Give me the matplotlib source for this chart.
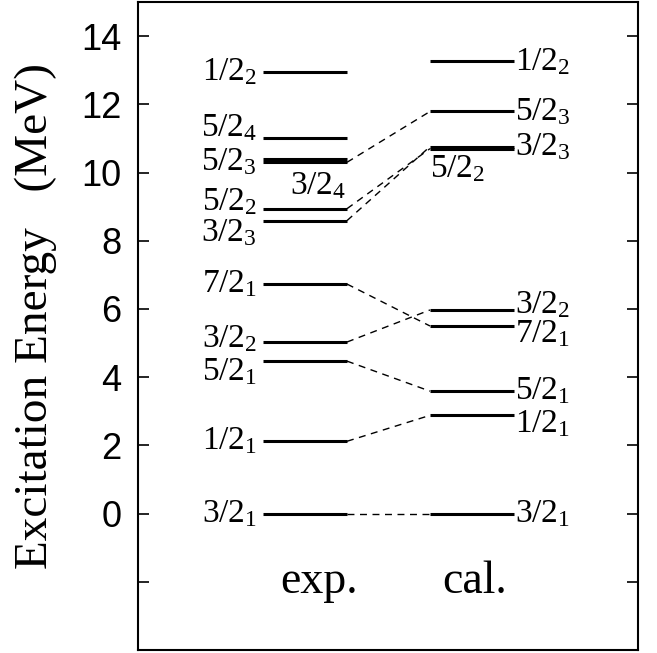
import matplotlib
matplotlib.use("Agg")
import matplotlib.pyplot as plt

# level energies in MeV
exp_labels = ["3/2_1", "1/2_1", "5/2_1", "3/2_2", "7/2_1", "3/2_3", "5/2_2", "5/2_3", "3/2_4", "5/2_4", "1/2_2"]
exp_energy = [0.0, 2.12, 4.47, 5.03, 6.73, 8.59, 8.94, 10.30, 10.40, 11.0, 12.95]

cal_labels = ["3/2_1", "1/2_1", "5/2_1", "7/2_1", "3/2_2", "5/2_2", "3/2_3", "5/2_3", "1/2_2"]
cal_energy = [0.0, 2.88, 3.59, 5.50, 5.97, 10.70, 10.76, 11.79, 13.26]

# which levels are linked by dashed lines
links = ["3/2_1", "1/2_1", "5/2_1", "3/2_2", "7/2_1", "3/2_3", "5/2_2", "5/2_3"]

yticks = [-2, 0, 2, 4, 6, 8, 10, 12, 14]
ytick_labels = ["", "0", "2", "4", "6", "8", "10", "12", "14"]

# label shifts (MeV) so that close levels don't collide
exp_shift = {"5/2_4": 0.3, "5/2_3": 0.0, "5/2_2": 0.2, "3/2_3": -0.35,
             "3/2_2": 0.1, "5/2_1": -0.3}
cal_shift = {"7/2_1": -0.22, "1/2_1": -0.25, "3/2_2": 0.16}

plt.rcParams["font.family"] = "Liberation Serif"

fig = plt.figure(figsize=(6.57, 6.53), dpi=100)
ax = fig.add_axes([138 / 657, 3 / 653, 500 / 657, 648 / 653])

ex0, ex1 = 0.25, 0.418
cx0, cx1 = 0.584, 0.752
fs = 24


def tex(s):
    a, b = s.split("_")
    return r"$\mathregular{" + a + "_{" + b + "}}$"


for lab, e in zip(exp_labels, exp_energy):
    ax.plot([ex0, ex1], [e, e], color="black", lw=2.2, solid_capstyle="butt")
    if lab == "3/2_4":
        ax.text(0.416, e - 0.8, tex(lab), fontsize=fs, ha="right", va="center")
    else:
        ax.text(0.238, e + exp_shift.get(lab, 0), tex(lab), fontsize=fs,
                ha="right", va="center")

for lab, e in zip(cal_labels, cal_energy):
    ax.plot([cx0, cx1], [e, e], color="black", lw=2.2, solid_capstyle="butt")
    if lab == "5/2_2":
        ax.text(cx0, e - 0.6, tex(lab), fontsize=fs, ha="left", va="center")
    else:
        ax.text(0.754, e + cal_shift.get(lab, 0), tex(lab), fontsize=fs,
                ha="left", va="center")

for lab in links:
    e1 = exp_energy[exp_labels.index(lab)]
    e2 = cal_energy[cal_labels.index(lab)]
    ax.plot([ex1, cx0], [e1, e2], color="black", lw=1.0, ls=(0, (5, 4)))

ax.text(0.362, -2.0, "exp.", fontsize=33, ha="center", va="center")
ax.text(0.674, -2.0, "cal.", fontsize=33, ha="center", va="center")

ax.set_xlim(0, 1)
ax.set_ylim(-4, 15)
ax.set_xticks([])
ax.set_yticks(yticks)
ax.set_yticklabels(ytick_labels, fontfamily="Liberation Sans", fontsize=26)
ax.tick_params(axis="y", direction="in", length=8, width=1.2, right=True, pad=12)
for sp in ax.spines.values():
    sp.set_linewidth(1.5)

fig.text(0.055, 0.516, "Excitation Energy   (MeV)", fontsize=34, rotation=90,
         ha="center", va="center")

fig.savefig("out.png", dpi=100)
